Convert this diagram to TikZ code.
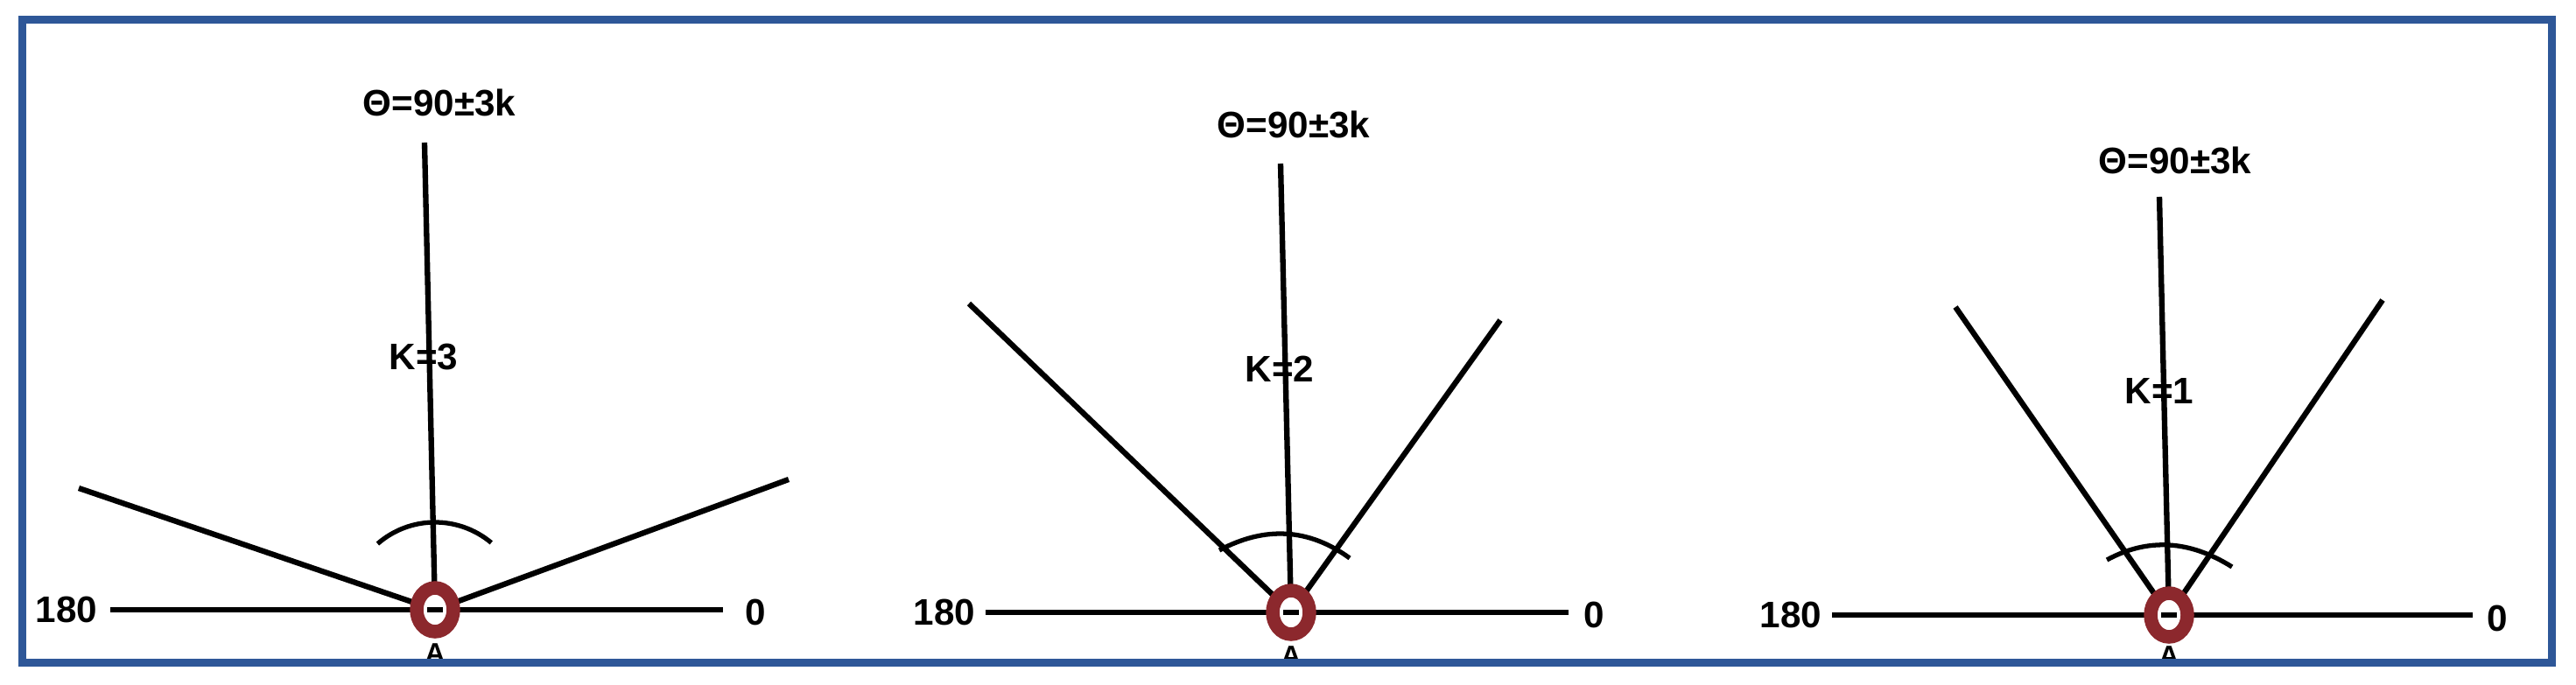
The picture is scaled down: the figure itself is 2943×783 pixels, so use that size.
\documentclass[tikz,border=0pt]{standalone}
\usepackage{fontspec}
\setmainfont{Liberation Sans}
\definecolor{frameblue}{RGB}{46,87,152}
\definecolor{ringred}{RGB}{140,40,45}
\tikzset{
  ray/.style={black, line width=1.8pt},
  angarc/.style={black, line width=1.5pt},
  ringstyle/.style={draw=ringred, line width=4.4pt, fill=white},
  lbl/.style={font=\fontsize{12}{14}\selectfont\bfseries, inner sep=0pt},
  albl/.style={font=\fontsize{9}{10}\selectfont\bfseries, inner sep=0pt},
}
\begin{document}
\begin{tikzpicture}[x=0.01cm, y=-0.01cm]
\useasboundingbox (0,0) rectangle (2943,783);
\fill[white] (0,0) rectangle (2943,783);

% ---------- Panel 1 (K=3) ----------
\coordinate (A1) at (497,697);
\coordinate (V1) at (485,163);
\coordinate (L1) at (90,558);
\coordinate (R1) at (901,548);
\coordinate (B1l) at (126,697);
\coordinate (B1r) at (826,697);
\node[lbl] (T1) at (502,117) {Θ=90±3k};
\node[lbl] (K1) at (484,408) {K=3};
\node[lbl] (D1l) at (76,697) {180};
\node[lbl] (D1r) at (863,700) {0};
\draw[ray] (B1l) -- (B1r);
\draw[ray] (V1) -- (A1);
\draw[ray] (L1) -- (A1);
\draw[ray] (R1) -- (A1);
\draw[angarc] (A1) ++(-131:100) arc[start angle=-131, end angle=-50, radius=100];
\node[albl] (N1) at (497,747) {A};
\draw[ringstyle] (A1) ellipse [x radius=21, y radius=25];
\draw[black, line width=1.6pt] (A1) ++(-9,0) -- ++(18,0);

% ---------- Panel 2 (K=2) ----------
\coordinate (A2) at (1475,700);
\coordinate (V2) at (1463,187);
\coordinate (L2) at (1107,347);
\coordinate (R2) at (1714,366);
\coordinate (B2l) at (1126,700);
\coordinate (B2r) at (1792,700);
\coordinate (C2l) at (1393,629);
\coordinate (C2r) at (1542,638);
\node[lbl] (T2) at (1478,142) {Θ=90±3k};
\node[lbl] (K2) at (1462,422) {K=2};
\node[lbl] (D2l) at (1079,700) {180};
\node[lbl] (D2r) at (1821,703) {0};
\draw[ray] (B2l) -- (B2r);
\draw[ray] (V2) -- (A2);
\draw[ray] (L2) -- (A2);
\draw[ray] (R2) -- (A2);
\draw[angarc] (C2l) .. controls (1445.7,601) and (1495.3,604) .. (C2r);
\node[albl] (N2) at (1475,750) {A};
\draw[ringstyle] (A2) ellipse [x radius=21, y radius=25];
\draw[black, line width=1.6pt] (A2) ++(-9,0) -- ++(18,0);

% ---------- Panel 3 (K=1) ----------
\coordinate (A3) at (2478,703);
\coordinate (V3) at (2467,225);
\coordinate (L3) at (2234,351);
\coordinate (R3) at (2722,343);
\coordinate (B3l) at (2093,703);
\coordinate (B3r) at (2825,703);
\coordinate (C3l) at (2407,640);
\coordinate (C3r) at (2550,648);
\node[lbl] (T3) at (2485,183) {Θ=90±3k};
\node[lbl] (K3) at (2467,447) {K=1};
\node[lbl] (D3l) at (2046,703) {180};
\node[lbl] (D3r) at (2853,707) {0};
\draw[ray] (B3l) -- (B3r);
\draw[ray] (V3) -- (A3);
\draw[ray] (L3) -- (A3);
\draw[ray] (R3) -- (A3);
\draw[angarc] (C3l) .. controls (2453.7,614.7) and (2501.3,617.3) .. (C3r);
\node[albl] (N3) at (2478,750) {A};
\draw[ringstyle] (A3) ellipse [x radius=21, y radius=25];
\draw[black, line width=1.6pt] (A3) ++(-9,0) -- ++(18,0);

% ---------- Frame ----------
\draw[frameblue, line width=2.56pt] (25.5,22.5) rectangle (2915.5,757.5);
\end{tikzpicture}
\end{document}
